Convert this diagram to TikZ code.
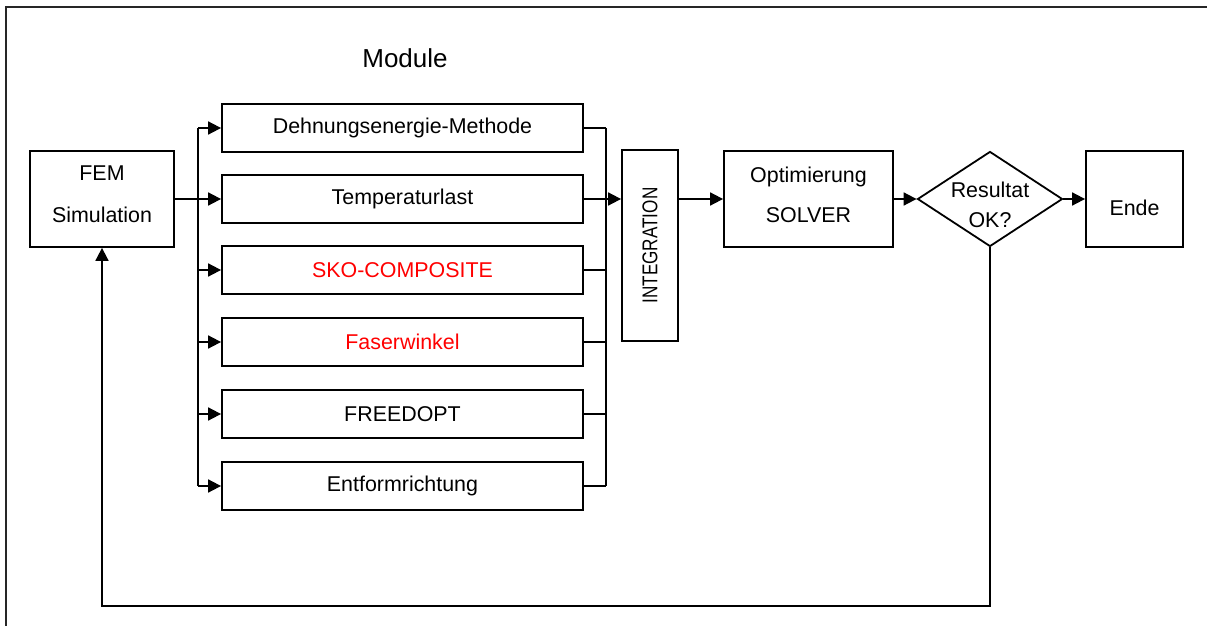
\documentclass[tikz,border=0pt]{standalone}
\usepackage{fontspec}
\setmainfont{Liberation Sans}
\usetikzlibrary{arrows.meta,shapes.geometric}

\newcommand{\modX}{402.5}
\newcommand{\busLX}{198}
\newcommand{\busRX}{606}
\newcommand{\backY}{606}
\newcommand{\lineW}{0.9pt}

\tikzset{
  box/.style={draw, line width=\lineW, inner sep=0pt, align=center},
  modbox/.style={box, minimum width=180.5pt, minimum height=24pt},
  arr/.style={line width=\lineW, -{Triangle[length=6.5pt,width=6.5pt]}},
  wire/.style={line width=\lineW},
}

\begin{document}
\begin{tikzpicture}[x=0.5pt, y=-0.5pt, font=\fontsize{10.7}{13}\selectfont]
        \useasboundingbox (0,0) rectangle (1207,626);

        % Frame
        \draw [line width=1pt, black!85] (6,626) -- (6,7) -- (1207,7);

        % Title
        \node (title) at (405,58) {\fontsize{13}{15}\selectfont Module};

        % Main chain
        \node[box, minimum width=72pt, minimum height=48pt] (fem) at (102,199) {FEM\\[8pt]Simulation\rule[-4.4pt]{0pt}{0pt}};
        \node[box, minimum width=28pt, minimum height=95.5pt] (integ) at (650,245.5) {};
        \node[rotate=90] (integText) at (integ.center) {\scalebox{0.8}[1]{INTEGRATION}};
        \node[box, minimum width=84.5pt, minimum height=48pt] (opt) at (808.5,199) {Optimierung\\[7pt]SOLVER\rule[-4pt]{0pt}{0pt}};
        \node[draw, diamond, line width=\lineW, inner sep=0pt, minimum width=72.5pt, minimum height=47.5pt] (chk) at (990,199) {};
        \node[align=center] (chkText) at ([yshift=-3pt]chk.center) {Resultat\\[2pt]OK?};
        \node[box, minimum width=48.5pt, minimum height=48pt] (ende) at (1134.5,199) {\rule{0pt}{16.5pt}Ende};

        % Modules
        \node[modbox] (m1) at (\modX,128) {Dehnungsenergie-Methode};
        \node[modbox] (m2) at (\modX,199) {Temperaturlast};
        \node[modbox, text=red] (m3) at (\modX,270) {SKO-COMPOSITE};
        \node[modbox, text=red] (m4) at (\modX,342) {Faserwinkel};
        \node[modbox] (m5) at (\modX,414) {FREEDOPT};
        \node[modbox] (m6) at (\modX,486) {Entformrichtung};

        % Buses
        \coordinate (busL) at (\busLX,0);
        \coordinate (busR) at (\busRX,0);
        \draw [wire] (busL |- m1.west) -- (busL |- m6.west);
        \draw [wire] (busR |- m1.east) -- (busR |- m6.east);
        \foreach \i in {1,...,6} {
            \draw [arr] (busL |- m\i.west) -- (m\i.west);
            \draw [wire] (m\i.east) -- (busR |- m\i.east);
        }

        % Connections
        \draw [wire] (fem.east) -- (busL |- fem.east);
        \draw [arr] (busR |- m2.east) -- (integ.west |- m2.east);
        \draw [arr] (integ.east |- opt.west) -- (opt.west);
        \draw [arr] (opt.east) -- (chk.west);
        \draw [arr] (chk.east) -- (ende.west);

        % Feedback
        \coordinate (back) at (102,\backY);
        \draw [arr] (chk.south) |- (back) -- (fem.south);
\end{tikzpicture}
\end{document}
